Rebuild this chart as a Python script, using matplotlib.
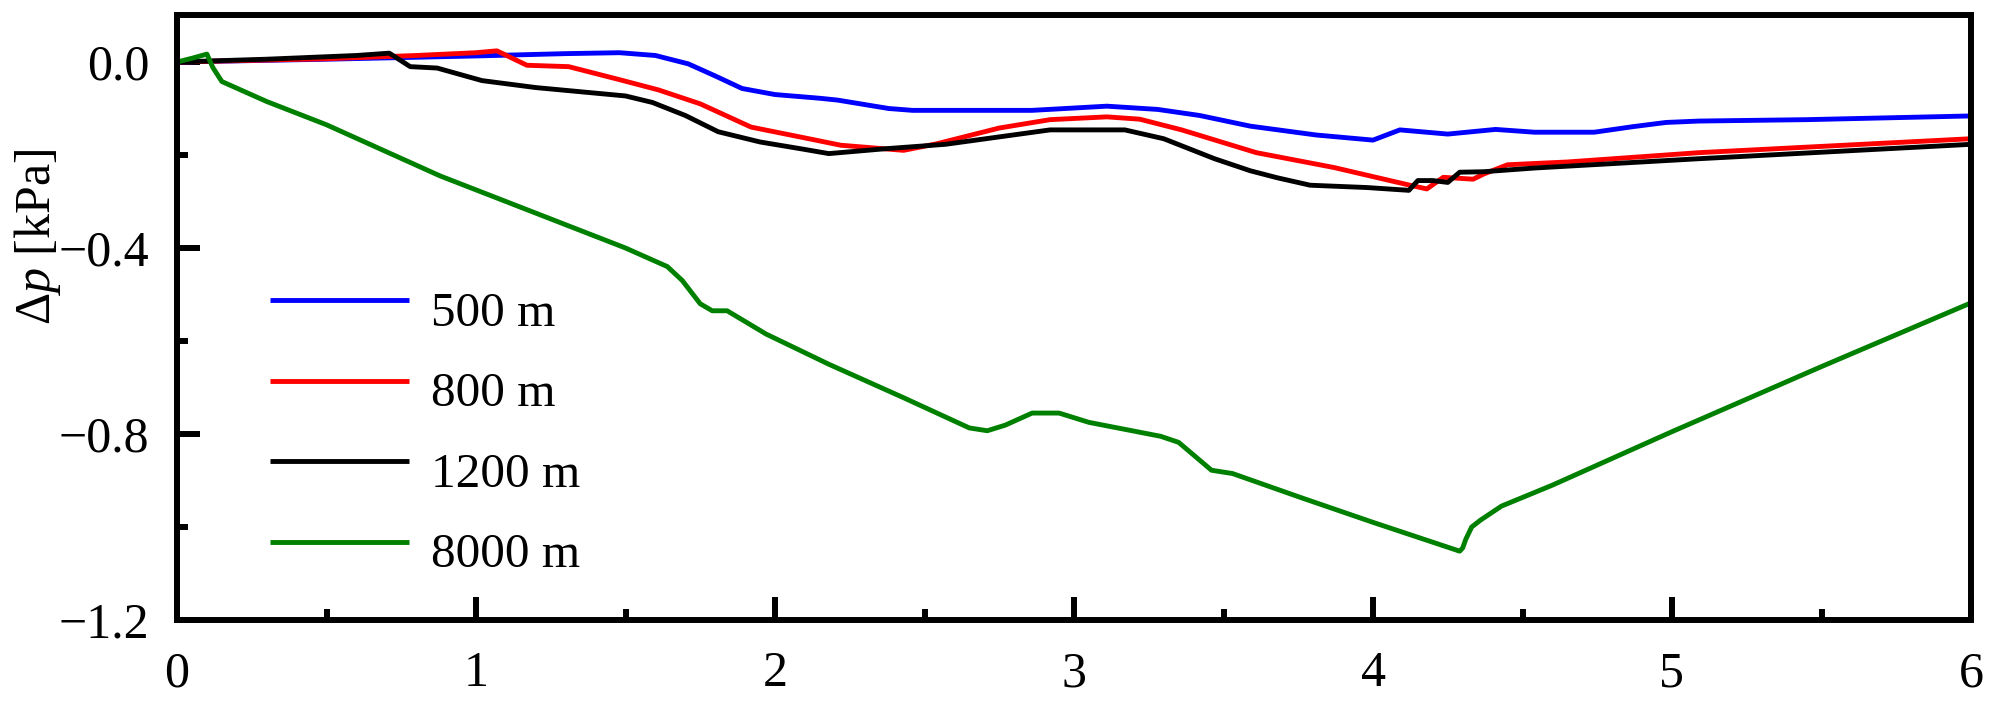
import numpy as np
import matplotlib
matplotlib.use("Agg")
import matplotlib.pyplot as plt
from matplotlib.ticker import MultipleLocator
from matplotlib.legend_handler import HandlerLine2D

plt.rcParams['font.family'] = ['Liberation Serif', 'DejaVu Serif']
plt.rcParams['mathtext.fontset'] = 'custom'
plt.rcParams['mathtext.rm'] = 'Liberation Serif'
plt.rcParams['mathtext.it'] = 'Liberation Serif:italic'

labels = ['500 m', '800 m', '1200 m', '8000 m']
colors = ['#0000FF', '#FF0000', '#000000', '#008000']

x_500 = [0, 0.5, 1.0, 1.3, 1.48, 1.6, 1.71, 1.8, 1.89, 2.0, 2.15, 2.21, 2.38, 2.46, 2.86,
         3.11, 3.28, 3.42, 3.59, 3.81, 4.0, 4.09, 4.25, 4.41, 4.54, 4.74, 4.87, 4.98, 5.09, 5.45, 6.0]
y_500 = [0, 0.006, 0.013, 0.018, 0.02, 0.014, -0.004, -0.03, -0.057, -0.07, -0.078, -0.082, -0.1,
         -0.104, -0.104, -0.095, -0.102, -0.115, -0.138, -0.157, -0.168, -0.146, -0.155, -0.145,
         -0.151, -0.151, -0.139, -0.13, -0.127, -0.124, -0.116]

x_800 = [0, 0.5, 0.8, 1.0, 1.07, 1.17, 1.31, 1.48, 1.61, 1.75, 1.92, 2.09, 2.22, 2.43, 2.54, 2.75,
         2.92, 3.11, 3.22, 3.36, 3.61, 3.87, 4.11, 4.18, 4.235, 4.335, 4.37, 4.45, 4.65, 5.09, 6.0]
y_800 = [0, 0.007, 0.014, 0.02, 0.024, -0.007, -0.01, -0.038, -0.06, -0.09, -0.14, -0.162, -0.179,
         -0.19, -0.176, -0.142, -0.124, -0.118, -0.123, -0.146, -0.195, -0.227, -0.263, -0.273,
         -0.248, -0.252, -0.241, -0.221, -0.215, -0.195, -0.165]

x_1200 = [0, 0.3, 0.6, 0.71, 0.78, 0.87, 1.02, 1.2, 1.5, 1.59, 1.7, 1.81, 1.95, 2.09, 2.18, 2.36,
          2.57, 2.92, 3.17, 3.3, 3.47, 3.59, 3.68, 3.79, 3.98, 4.12, 4.15, 4.2, 4.25, 4.29, 4.37,
          4.54, 5.09, 6.0]
y_1200 = [0, 0.006, 0.014, 0.019, -0.01, -0.013, -0.04, -0.055, -0.073, -0.087, -0.115, -0.15,
          -0.172, -0.187, -0.197, -0.187, -0.177, -0.146, -0.146, -0.165, -0.208, -0.234, -0.249,
          -0.265, -0.27, -0.276, -0.255, -0.255, -0.259, -0.237, -0.236, -0.228, -0.208, -0.177]

x_8000 = [0, 0.05, 0.1, 0.12, 0.15, 0.3, 0.5, 0.88, 1.2, 1.5, 1.64, 1.69, 1.75, 1.79, 1.84, 1.97,
          2.18, 2.43, 2.65, 2.71, 2.77, 2.86, 2.95, 3.05, 3.29, 3.35, 3.46, 3.53, 3.76, 4.0, 4.29,
          4.30, 4.31, 4.33, 4.36, 4.43, 4.6, 5.0, 5.5, 6.0]
y_8000 = [0, 0.008, 0.017, -0.012, -0.042, -0.085, -0.135, -0.245, -0.325, -0.4, -0.44, -0.47,
          -0.52, -0.535, -0.535, -0.585, -0.65, -0.722, -0.787, -0.793, -0.781, -0.755, -0.755,
          -0.775, -0.805, -0.818, -0.878, -0.885, -0.937, -0.99, -1.052, -1.045, -1.027, -1.0,
          -0.985, -0.955, -0.91, -0.795, -0.655, -0.518]

xs = [x_500, x_800, x_1200, x_8000]
ys = [y_500, y_800, y_1200, y_8000]


class RaisedLine(HandlerLine2D):
    def create_artists(self, legend, orig_handle, xdescent, ydescent, width, height,
                       fontsize, trans):
        arts = super().create_artists(legend, orig_handle, xdescent, ydescent, width,
                                      height, fontsize, trans)
        for a in arts:
            a.set_ydata(np.asarray(a.get_ydata(), dtype=float) + 0.17 * fontsize)
        return arts


fig = plt.figure(figsize=(20, 7.11), dpi=100)
ax = fig.add_axes([0.0885, 0.128, 0.897, 0.8502])

lines = []
for x, y, lab, c in zip(xs, ys, labels, colors):
    ln, = ax.plot(x, y, color=c, lw=3.5, label=lab)
    lines.append(ln)

ax.set_xlim(0, 6)
ax.set_ylim(-1.2, 0.1)
ax.xaxis.set_major_locator(MultipleLocator(1))
ax.xaxis.set_minor_locator(MultipleLocator(0.5))
ax.yaxis.set_major_locator(MultipleLocator(0.4))
ax.yaxis.set_minor_locator(MultipleLocator(0.2))
ax.tick_params(which='both', direction='in', width=4.3, labelsize=36, top=False, right=False)
ax.tick_params(which='major', length=16.5)
ax.tick_params(which='minor', length=8)
ax.tick_params(axis='y', which='major', pad=20)
ax.tick_params(axis='x', which='major', pad=22)
for s in ax.spines.values():
    s.set_linewidth(4.3)

ax.set_ylabel(r'$\Delta p$ [kPa]', fontsize=36)
ax.yaxis.set_label_coords(-0.0635, 0.634)

leg = ax.legend(handles=lines, loc='upper left', bbox_to_anchor=(0.0518, 0.544),
                frameon=False, fontsize=35.5, handlelength=2.82, handletextpad=0.45,
                labelspacing=0.73, borderpad=0, borderaxespad=0,
                handler_map={matplotlib.lines.Line2D: RaisedLine()})
for lh in leg.get_lines():
    lh.set_solid_capstyle('butt')

fig.savefig('out.png', dpi=100)
